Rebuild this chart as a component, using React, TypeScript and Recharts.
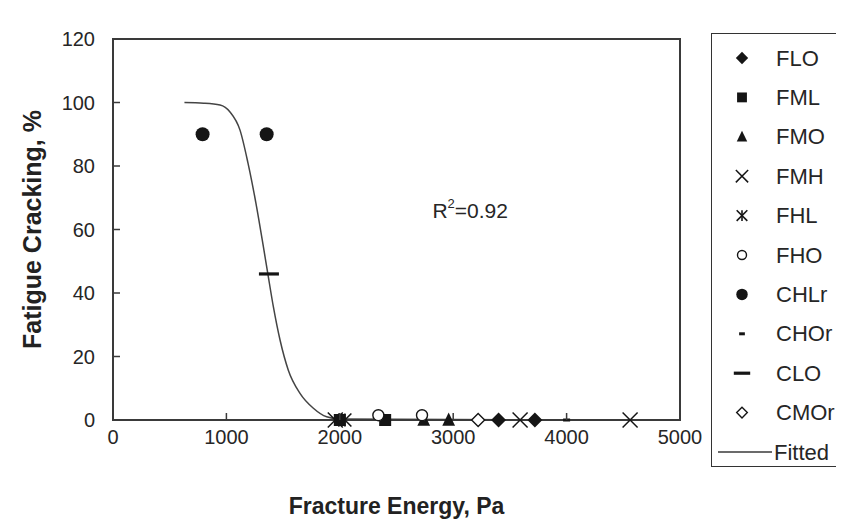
import React from "react";
import {
  ComposedChart,
  Scatter,
  Line,
  XAxis,
  YAxis,
  ReferenceArea,
  ReferenceDot,
  Legend,
  Label,
} from "recharts";

const X_TICKS = [0, 1000, 2000, 3000, 4000, 5000];
const Y_TICKS = [0, 20, 40, 60, 80, 100, 120];

// measured points, fracture energy (Pa) vs fatigue cracking (%)
const FLO = [{ x: 3400, y: 0 }, { x: 3720, y: 0 }];
const FML = [{ x: 2000, y: 0 }, { x: 2400, y: 0 }];
const FMO = [{ x: 2740, y: 0 }, { x: 2960, y: 0 }];
const FMH = [{ x: 1960, y: 0 }, { x: 3590, y: 0 }, { x: 4560, y: 0 }];
const FHL = [{ x: 2045, y: 0 }];
const FHO = [{ x: 2340, y: 1.5 }, { x: 2725, y: 1.5 }];
const CHLR = [{ x: 790, y: 90 }, { x: 1355, y: 90 }];
const CHOR = [{ x: 4000, y: 0 }];
const CLO = [{ x: 1375, y: 46 }];
const CMOR = [{ x: 3220, y: 0 }];

const FITTED_X = [630, 800, 944, 1032, 1120, 1190, 1267, 1326, 1367, 1414, 1473, 1546, 1649, 1767, 1884, 2000, 3750];
const FITTED_Y = [100, 99.8, 99.2, 97, 91.3, 81, 67, 54.6, 45.7, 35.7, 25.2, 15.7, 8.4, 3.7, 1, 0.3, 0];
const fitted = FITTED_X.map((x, i) => ({ x, y: FITTED_Y[i] }));

const R2_TEXT = "0.92";

const SERIES = [
  { name: "FLO", kind: "diamond", data: FLO },
  { name: "FML", kind: "square", data: FML },
  { name: "FMO", kind: "triangle", data: FMO },
  { name: "FMH", kind: "x", data: FMH },
  { name: "FHL", kind: "star", data: FHL },
  { name: "FHO", kind: "ocircle", data: FHO },
  { name: "CHLr", kind: "circle", data: CHLR },
  { name: "CHOr", kind: "sdash", data: CHOR },
  { name: "CLO", kind: "dash", data: CLO },
  { name: "CMOr", kind: "odiamond", data: CMOR },
];

const FONT = '"Liberation Sans", Arial, sans-serif';
const INK = "#151515";
const AXIS = "#3a3a3a";
const TEXT = "#262626";

function Marker({ kind, cx, cy, s = 1 }: { kind: string; cx: number; cy: number; s?: number }) {
  if (cx == null || cy == null) return null;
  switch (kind) {
    case "diamond": {
      const r = 7.5 * s;
      return <polygon points={`${cx},${cy - r} ${cx + r},${cy} ${cx},${cy + r} ${cx - r},${cy}`} fill={INK} />;
    }
    case "odiamond": {
      const r = 6.5 * s;
      return (
        <polygon
          points={`${cx},${cy - r} ${cx + r},${cy} ${cx},${cy + r} ${cx - r},${cy}`}
          fill="#fff"
          stroke={INK}
          strokeWidth={1.4}
        />
      );
    }
    case "square": {
      const r = 6 * s;
      return <rect x={cx - r} y={cy - r} width={2 * r} height={2 * r} fill={INK} />;
    }
    case "triangle": {
      const r = 7.5 * s;
      return <polygon points={`${cx},${cy - r} ${cx + r * 0.85},${cy + r * 0.75} ${cx - r * 0.85},${cy + r * 0.75}`} fill={INK} />;
    }
    case "x": {
      const r = 7.5 * s;
      return (
        <g stroke={INK} strokeWidth={1.5}>
          <line x1={cx - r} y1={cy - r} x2={cx + r} y2={cy + r} />
          <line x1={cx - r} y1={cy + r} x2={cx + r} y2={cy - r} />
        </g>
      );
    }
    case "star": {
      const r = 6.5 * s;
      return (
        <g stroke={INK} strokeWidth={1.6}>
          <line x1={cx - r} y1={cy - r} x2={cx + r} y2={cy + r} />
          <line x1={cx - r} y1={cy + r} x2={cx + r} y2={cy - r} />
          <line x1={cx} y1={cy - r} x2={cx} y2={cy + r} />
        </g>
      );
    }
    case "ocircle":
      return <circle cx={cx} cy={cy} r={5.5 * s} fill="#fff" stroke={INK} strokeWidth={1.4} />;
    case "circle":
      return <circle cx={cx} cy={cy} r={7 * s} fill={INK} />;
    case "sdash":
      return <rect x={cx - 3.5 * s} y={cy - 1.5} width={7 * s} height={3} fill={INK} />;
    case "dash":
      return <rect x={cx - 10 * s} y={cy - 1.6} width={20 * s} height={3.2} fill={INK} />;
    default:
      return null;
  }
}

const YTick = ({ x, y, payload }: any) => (
  <g>
    <line x1={x + 18} x2={x + 25} y1={y} y2={y} stroke={AXIS} strokeWidth={1.5} />
    <text x={x} y={y} textAnchor="end" dominantBaseline="central" fontSize={20} fontFamily={FONT} fill={TEXT}>
      {payload.value}
    </text>
  </g>
);

const XTick = ({ x, y, payload }: any) => (
  <g>
    <line x1={x} x2={x} y1={y - 8} y2={y - 15} stroke={AXIS} strokeWidth={1.5} />
    <text x={x} y={y + 9} textAnchor="middle" dominantBaseline="central" fontSize={20} fontFamily={FONT} fill={TEXT}>
      {payload.value}
    </text>
  </g>
);

const LegendBox = () => (
  <svg width={127} height={430} style={{ display: "block" }}>
    {SERIES.map((s, i) => (
      <g key={s.name}>
        <Marker kind={s.kind} cx={30} cy={24 + i * 39.4} s={0.82} />
        <text x={64} y={24 + i * 39.4} dominantBaseline="central" fontSize={22} fontFamily={FONT} fill={TEXT}>
          {s.name}
        </text>
      </g>
    ))}
    <line x1={6} x2={60} y1={24 + 10 * 39.4} y2={24 + 10 * 39.4} stroke={AXIS} strokeWidth={1.5} />
    <text x={62} y={24 + 10 * 39.4} dominantBaseline="central" fontSize={22} fontFamily={FONT} fill={TEXT}>
      Fitted
    </text>
  </svg>
);

export default function App() {
  return (
    <div style={{ width: 836, height: 515, background: "#fff" }}>
      <ComposedChart width={836} height={515} margin={{ top: 31, right: 164, bottom: 0, left: 0 }}>
        <XAxis
          type="number"
          dataKey="x"
          domain={[0, 5000]}
          ticks={X_TICKS}
          height={103}
          tickSize={0}
          tickMargin={8}
          tickLine={false}
          axisLine={{ stroke: AXIS, strokeWidth: 2 }}
          tick={<XTick />}
        >
          <Label
            content={({ viewBox }: any) => (
              <text
                x={viewBox.x + viewBox.width / 2}
                y={viewBox.y + 86}
                textAnchor="middle"
                dominantBaseline="central"
                fontSize={23}
                fontWeight="bold"
                fontFamily={FONT}
                fill="#222"
              >
                Fracture Energy, Pa
              </text>
            )}
          />
        </XAxis>
        <YAxis
          type="number"
          dataKey="y"
          domain={[0, 120]}
          ticks={Y_TICKS}
          width={105}
          tickSize={0}
          tickMargin={18}
          tickLine={false}
          axisLine={{ stroke: AXIS, strokeWidth: 2 }}
          tick={<YTick />}
        >
          <Label
            content={({ viewBox }: any) => {
              const cx = viewBox.x + 24;
              const cy = viewBox.y + viewBox.height / 2;
              return (
                <text
                  x={cx}
                  y={cy}
                  transform={`rotate(-90 ${cx} ${cy})`}
                  textAnchor="middle"
                  dominantBaseline="central"
                  fontSize={25}
                  fontWeight="bold"
                  fontFamily={FONT}
                  fill="#222"
                >
                  Fatigue Cracking, %
                </text>
              );
            }}
          />
        </YAxis>
        <ReferenceArea x1={0} x2={5000} y1={0} y2={120} fill="none" stroke={AXIS} strokeWidth={2} />
        <Line
          data={fitted}
          dataKey="y"
          type="monotone"
          stroke="#444"
          strokeWidth={1.5}
          dot={false}
          activeDot={false}
          isAnimationActive={false}
          name="Fitted"
        />
        {SERIES.map((s) => (
          <Scatter
            key={s.name}
            name={s.name}
            data={s.data}
            isAnimationActive={false}
            shape={(p: any) => <Marker kind={s.kind} cx={p.cx} cy={p.cy} />}
          />
        ))}
        <ReferenceDot
          x={3150}
          y={66}
          r={0}
          label={({ viewBox }: any) => (
            <text
              x={viewBox.x}
              y={viewBox.y}
              textAnchor="middle"
              dominantBaseline="central"
              fontSize={21}
              fontFamily={FONT}
              fill={TEXT}
            >
              R<tspan dy={-7} fontSize={13}>2</tspan>
              <tspan dy={7}>={R2_TEXT}</tspan>
            </text>
          )}
        />
        <Legend
          layout="vertical"
          align="center"
          verticalAlign="middle"
          content={() => <LegendBox />}
          wrapperStyle={{
            position: "absolute",
            left: 703,
            top: 25,
            width: 131,
            height: 434,
            border: "1.5px solid #333",
            boxSizing: "border-box",
            background: "#fff",
          }}
        />
      </ComposedChart>
    </div>
  );
}
